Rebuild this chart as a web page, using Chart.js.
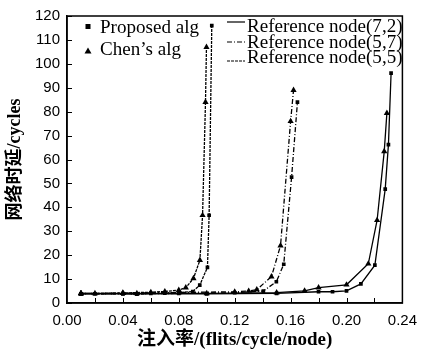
<!DOCTYPE html>
<html>
<head>
<meta charset="utf-8">
<script src="https://cdn.jsdelivr.net/npm/chart.js@4/dist/chart.umd.min.js"></script>
<style>
html,body{margin:0;padding:0;background:#fff;}
#wrap{width:426px;height:355px;position:relative;}
</style>
</head>
<body>
<div id="wrap"><canvas id="c" width="426" height="355"></canvas></div>
<script>
// ---- data ----
const xTickValues = [0.00, 0.04, 0.08, 0.12, 0.16, 0.20, 0.24];
const xMinorTicks = [0.02, 0.04, 0.06, 0.08, 0.10, 0.12, 0.14, 0.16, 0.18, 0.20, 0.22];
const yTickValues = [0, 10, 20, 30, 40, 50, 60, 70, 80, 90, 100, 110, 120];

// Reference node (5,5)
const prop55X = [0.01, 0.02, 0.04, 0.05, 0.06, 0.07, 0.08, 0.09, 0.095, 0.1005, 0.1017, 0.1036];
const prop55Y = [3.8, 3.8, 3.9, 3.7, 4.0, 4.1, 4.3, 4.8, 7.5, 14.9, 36.7, 116];
const chen55X = [0.01, 0.02, 0.04, 0.06, 0.07, 0.08, 0.085, 0.0905, 0.0951, 0.097, 0.0991, 0.0998];
const chen55Y = [4.0, 4.0, 4.2, 4.5, 4.8, 5.4, 6.4, 10.3, 17.9, 36.7, 84, 107];

// Reference node (5,7)
const prop57X = [0.01, 0.04, 0.08, 0.12, 0.1405, 0.1498, 0.1551, 0.1607, 0.1649];
const prop57Y = [3.8, 3.8, 4.0, 4.3, 5.0, 8.9, 16.2, 52.6, 84];
const chen57X = [0.01, 0.04, 0.08, 0.12, 0.13, 0.1358, 0.1463, 0.1528, 0.160, 0.1621];
const chen57Y = [4.0, 4.1, 4.4, 4.7, 5.0, 5.6, 11, 24, 76, 89];

// Reference node (7,2)
const prop72X = [0.01, 0.05, 0.10, 0.15, 0.18, 0.19, 0.20, 0.2103, 0.2203, 0.2277, 0.2300, 0.2319];
const prop72Y = [3.8, 3.8, 3.8, 4.0, 4.7, 4.7, 5.1, 8.0, 15.8, 47.6, 66.2, 96.1];
const chen72X = [0.01, 0.05, 0.10, 0.15, 0.17, 0.18, 0.20, 0.2156, 0.2219, 0.2270, 0.2289];
const chen72Y = [4.0, 4.0, 4.0, 4.3, 5.1, 6.4, 7.6, 16.4, 34.6, 63.4, 79.4];

const legendAlgs = ['Proposed alg', 'Chen\u2019s alg'];
const legendNodes = ['Reference node(7,2)', 'Reference node(5,7)', 'Reference node(5,5)'];

const DASH_72 = [];
const DASH_57 = [5, 2, 1, 2];
const DASH_55 = [3, 1];

function pts(xs, ys){ return xs.map((x,i)=>({x:x, y:ys[i]})); }
function ds(xs, ys, marker, dash){
  return {
    data: pts(xs, ys),
    showLine: true,
    borderColor: '#000',
    backgroundColor: '#000',
    borderWidth: 1.3,
    borderDash: dash,
    pointStyle: marker,
    pointRadius: marker === 'triangle' ? 3.6 : 2.6,
    pointBorderWidth: 0,
    pointBackgroundColor: '#000',
    tension: 0
  };
}

const frame = {
  id: 'frame',
  afterDraw(chart){
    const {ctx, chartArea:a, scales:{x, y}} = chart;
    ctx.save();
    ctx.strokeStyle = '#000';
    ctx.lineWidth = 1.5;
    ctx.strokeRect(a.left, a.top, a.right - a.left, a.bottom - a.top);
    ctx.lineWidth = 1;
    ctx.beginPath();
    xMinorTicks.forEach(v=>{
      const px = Math.round(x.getPixelForValue(v)) + 0.5;
      ctx.moveTo(px, a.bottom); ctx.lineTo(px, a.bottom - 5);
    });
    yTickValues.forEach(v=>{
      const py = Math.round(y.getPixelForValue(v)) + 0.5;
      ctx.moveTo(a.left, py); ctx.lineTo(a.left + 5, py);
    });
    ctx.stroke();

    // legend
    ctx.fillStyle = '#000';
    ctx.font = '18.5px "Liberation Serif", "Times New Roman", serif';
    ctx.textBaseline = 'alphabetic';
    function txt(s, tx, ty){
      ctx.save(); ctx.translate(tx, ty); ctx.scale(1.03, 1); ctx.fillText(s, 0, 0); ctx.restore();
    }
    // square marker
    ctx.fillRect(85.5, 24, 5, 5);
    txt(legendAlgs[0], 100, 33);
    // triangle marker
    ctx.beginPath();
    ctx.moveTo(88, 47.5); ctx.lineTo(91.5, 53.5); ctx.lineTo(84.5, 53.5); ctx.closePath(); ctx.fill();
    txt(legendAlgs[1], 100, 55);

    const dashes = [DASH_72, DASH_57, DASH_55];
    const ly = [22, 42, 61];
    const tb = [32, 47.5, 63];
    ctx.lineWidth = 1.2;
    for (let i = 0; i < 3; i++){
      ctx.setLineDash(dashes[i]);
      ctx.beginPath(); ctx.moveTo(227, ly[i]); ctx.lineTo(245, ly[i]); ctx.stroke();
      ctx.setLineDash([]);
      txt(legendNodes[i], 247, tb[i]);
    }
    ctx.restore();
  }
};

new Chart(document.getElementById('c'), {
  type: 'scatter',
  data: {
    datasets: [
      ds(prop55X, prop55Y, 'rect', DASH_55),
      ds(chen55X, chen55Y, 'triangle', DASH_55),
      ds(prop57X, prop57Y, 'rect', DASH_57),
      ds(chen57X, chen57Y, 'triangle', DASH_57),
      ds(prop72X, prop72Y, 'rect', DASH_72),
      ds(chen72X, chen72Y, 'triangle', DASH_72)
    ]
  },
  options: {
    responsive: false,
    animation: false,
    devicePixelRatio: 1,
    layout: { padding: { left: 0, top: 15, right: 15, bottom: 0 } },
    plugins: { legend: { display: false }, tooltip: { enabled: false } },
    scales: {
      x: {
        type: 'linear', min: 0, max: 0.24,
        afterBuildTicks(s){ s.ticks = xTickValues.map(v=>({value:v})); },
        afterFit(s){ s.height = 52; },
        grid: { display: false, drawTicks: false },
        border: { display: true, color: '#000', width: 1.5 },
        ticks: {
          padding: 9,
          color: '#000',
          font: { family: '"Liberation Sans", Arial, sans-serif', size: 15 },
          callback: v => Number(v).toFixed(2),
          maxRotation: 0, autoSkip: false
        },
        title: {
          display: true,
          text: '注入率/(flits/cycle/node)',
          color: '#000',
          font: { family: '"Liberation Serif", "Noto Sans CJK SC", serif', size: 19, weight: 'bold' },
          padding: { top: 0, bottom: 4 }
        }
      },
      y: {
        type: 'linear', min: 0, max: 120,
        afterBuildTicks(s){ s.ticks = yTickValues.map(v=>({value:v})); },
        afterFit(s){ s.width = 67; },
        grid: { display: false, drawTicks: false },
        border: { display: true, color: '#000', width: 1.5 },
        ticks: {
          padding: 7,
          color: '#000',
          font: { family: '"Liberation Sans", Arial, sans-serif', size: 15 },
          autoSkip: false
        },
        title: {
          display: true,
          text: '网络时延/cycles',
          color: '#000',
          font: { family: '"Liberation Serif", "Noto Sans CJK SC", serif', size: 18, weight: 'bold' },
          padding: { top: 5, bottom: 0 }
        }
      }
    }
  },
  plugins: [frame]
});
</script>
</body>
</html>
